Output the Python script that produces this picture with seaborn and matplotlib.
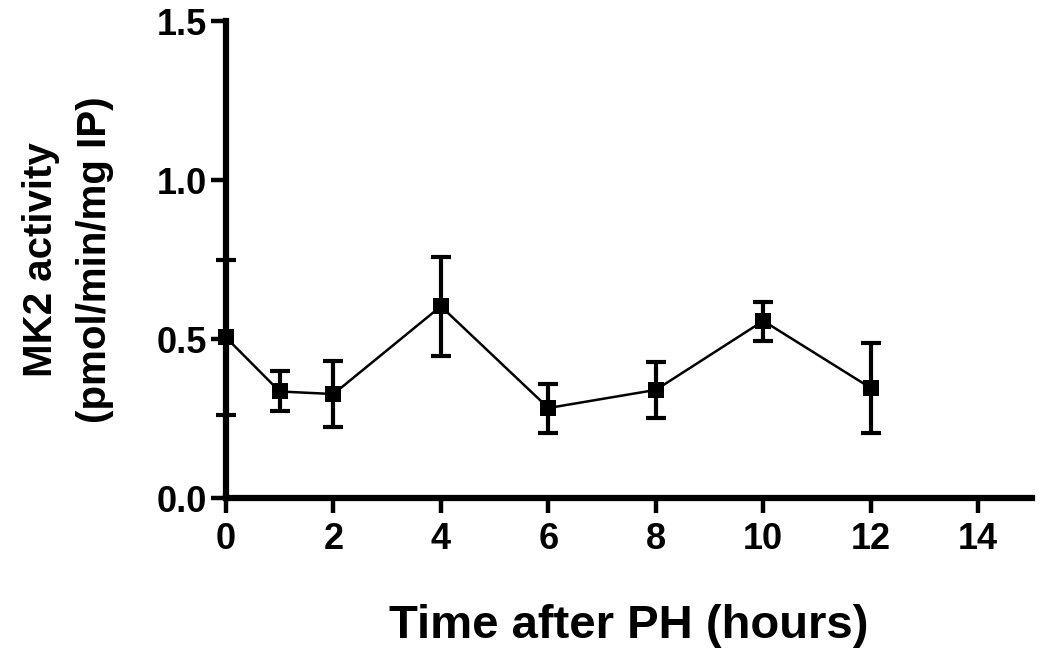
import matplotlib
matplotlib.use("Agg")
import matplotlib.pyplot as plt
import seaborn as sns
import numpy as np
import pandas as pd

# Data
hours = [0, 1, 2, 4, 6, 8, 10, 12]
activity = [0.505, 0.335, 0.327, 0.603, 0.283, 0.340, 0.557, 0.346]
err_low = [0.245, 0.062, 0.104, 0.155, 0.079, 0.088, 0.063, 0.142]
err_high = [0.245, 0.065, 0.104, 0.155, 0.077, 0.088, 0.060, 0.140]
x_ticks = [0, 2, 4, 6, 8, 10, 12, 14]
y_ticks = [0.0, 0.5, 1.0, 1.5]
y_tick_labels = ["0.0", "0.5", "1.0", "1.5"]

sns.set_style("ticks")
plt.rcParams['font.family'] = ['Liberation Sans', 'DejaVu Sans']
plt.rcParams['font.weight'] = 'bold'
plt.rcParams['text.color'] = 'black'
plt.rcParams['axes.labelcolor'] = 'black'
plt.rcParams['xtick.color'] = 'black'
plt.rcParams['ytick.color'] = 'black'

df = pd.DataFrame({"hours": hours, "activity": activity})

fig = plt.figure(figsize=(10.5, 6.57), dpi=100)
ax = fig.add_axes([0.2152, 0.2420, 0.7676, 0.7260])

ax.errorbar(hours, activity, yerr=[err_low, err_high], fmt='none',
            ecolor='black', elinewidth=3, capsize=7.5, capthick=3,
            clip_on=False, zorder=3)
sns.lineplot(data=df, x="hours", y="activity", ax=ax, color='black',
             linewidth=1.8, marker='s', markersize=11.5, markeredgewidth=0,
             markerfacecolor='black', clip_on=False, zorder=4)

ax.set_xlim(0, 15)
ax.set_ylim(0, 1.5)
ax.set_xticks(x_ticks)
ax.set_xticklabels([str(t) for t in x_ticks])
ax.set_yticks(y_ticks)
ax.set_yticklabels(y_tick_labels)

for s in ['top', 'right']:
    ax.spines[s].set_visible(False)
for s in ['left', 'bottom']:
    ax.spines[s].set_linewidth(4.5)
    ax.spines[s].set_color('black')
    ax.spines[s].set_capstyle('projecting')

ax.tick_params(axis='both', which='major', length=11, width=3.2,
               direction='out', labelsize=26, color='black',
               labelcolor='black')
ax.tick_params(axis='x', pad=6)
ax.tick_params(axis='y', pad=3)
for lab in ax.get_xticklabels() + ax.get_yticklabels():
    lab.set_fontweight('bold')

ax.set_xlabel("Time after PH (hours)", fontsize=34, fontweight='bold',
              labelpad=34, color='black')
ax.set_ylabel("MK2 activity\n(pmol/min/mg IP)", fontsize=29, fontweight='bold',
              labelpad=30, linespacing=1.55, color='black')

fig.savefig("out.png", dpi=100)
